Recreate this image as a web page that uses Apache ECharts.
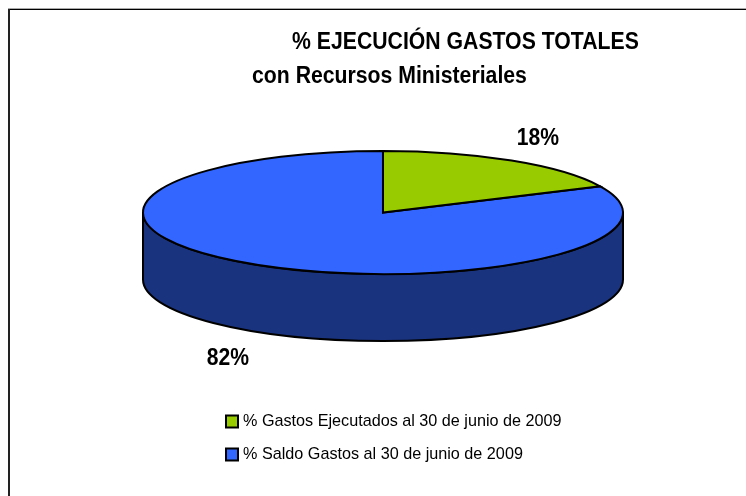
<!DOCTYPE html>
<html><head><meta charset="utf-8">
<style>html,body{margin:0;padding:0;background:#fff}#c{width:746px;height:496px}</style>
<script src="https://cdn.jsdelivr.net/npm/echarts@6/dist/echarts.min.js"></script>
</head><body><div id="c"></div>
<script>
const categories = ['% Gastos Ejecutados al 30 de junio de 2009', '% Saldo Gastos al 30 de junio de 2009'];
const values = [18, 82];
const topColors = ['#99CC00', '#3366FF'];
const wallColors = ['#5C7A00', '#1A337F'];
const titleLines = ['% EJECUCIÓN GASTOS TOTALES', 'con Recursos Ministeriales'];

const FONT = '"Liberation Sans",Arial,sans-serif';
const CX = 383, CY = 212.5, RX = 240, RY = 61.5, DEPTH = 67;
const labelPos = [[538, 138], [228, 358]];
const total = values.reduce((a, b) => a + b, 0);
const pt = (deg, dy) => [CX + RX * Math.sin(deg * Math.PI / 180), CY - RY * Math.cos(deg * Math.PI / 180) + (dy || 0)];

function sliceRender(idx) {
  return function (params, api) {
    const before = values.slice(0, idx).reduce((a, b) => a + b, 0);
    const a0 = before / total * 360, a1 = (before + api.value(0)) / total * 360;
    const children = [];
    const w0 = Math.max(a0, 90), w1 = Math.min(a1, 270);
    if (w1 > w0) {
      const p0 = pt(w0), p1 = pt(w1), q0 = pt(w0, DEPTH), q1 = pt(w1, DEPTH);
      children.push({
        type: 'path',
        shape: { pathData: `M${p0} L${q0} A${RX} ${RY} 0 ${w1 - w0 > 180 ? 1 : 0} 1 ${q1} L${p1} A${RX} ${RY} 0 ${w1 - w0 > 180 ? 1 : 0} 0 ${p0} Z` },
        style: { fill: wallColors[idx], stroke: '#000', lineWidth: 2 }
      });
    }
    const s = pt(a0), e = pt(a1);
    children.push({
      type: 'path',
      shape: { pathData: `M${CX} ${CY} L${s} A${RX} ${RY} 0 ${a1 - a0 > 180 ? 1 : 0} 1 ${e} Z` },
      style: { fill: topColors[idx], stroke: '#000', lineWidth: 2 }
    });
    children.push({
      type: 'text',
      x: labelPos[idx][0], y: labelPos[idx][1], scaleX: 0.88,
      style: {
        x: 0, y: 0, text: api.value(0) + '%',
        fill: '#000', font: 'bold 24px ' + FONT, align: 'center', verticalAlign: 'middle'
      }
    });
    return { type: 'group', children };
  };
}

const chart = echarts.init(document.getElementById('c'), null, { renderer: 'canvas' });
chart.setOption({
  animation: false,
  backgroundColor: '#fff',
  legend: {
    orient: 'vertical', left: 225, top: 412.5, padding: 0, itemGap: 15,
    itemWidth: 12, itemHeight: 12, icon: 'rect', itemStyle: { borderColor: '#000', borderWidth: 2 },
    textStyle: { fontFamily: FONT, fontSize: 16.2, color: '#000', lineHeight: 18 },
    data: categories
  },
  graphic: [
    { type: 'rect', shape: { x: 8, y: 8, width: 738, height: 1 }, style: { fill: '#aaa' }, silent: true },
    { type: 'rect', shape: { x: 8, y: 9, width: 738, height: 1 }, style: { fill: '#000' }, silent: true },
    { type: 'rect', shape: { x: 8, y: 9, width: 2, height: 487 }, style: { fill: '#222' }, silent: true },
    { type: 'text', x: 292, y: 42.5, scaleX: 0.923, silent: true,
      style: { x: 0, y: 0, text: titleLines[0], font: 'bold 23px ' + FONT, fill: '#000', verticalAlign: 'middle' } },
    { type: 'text', x: 252, y: 76.5, scaleX: 0.923, silent: true,
      style: { x: 0, y: 0, text: titleLines[1], font: 'bold 23px ' + FONT, fill: '#000', verticalAlign: 'middle' } }
  ],
  series: categories.map((name, i) => ({
    type: 'custom', name, coordinateSystem: 'none',
    itemStyle: { color: topColors[i] },
    renderItem: sliceRender(i),
    data: [[values[i]]]
  })).reverse()
});
</script></body></html>
